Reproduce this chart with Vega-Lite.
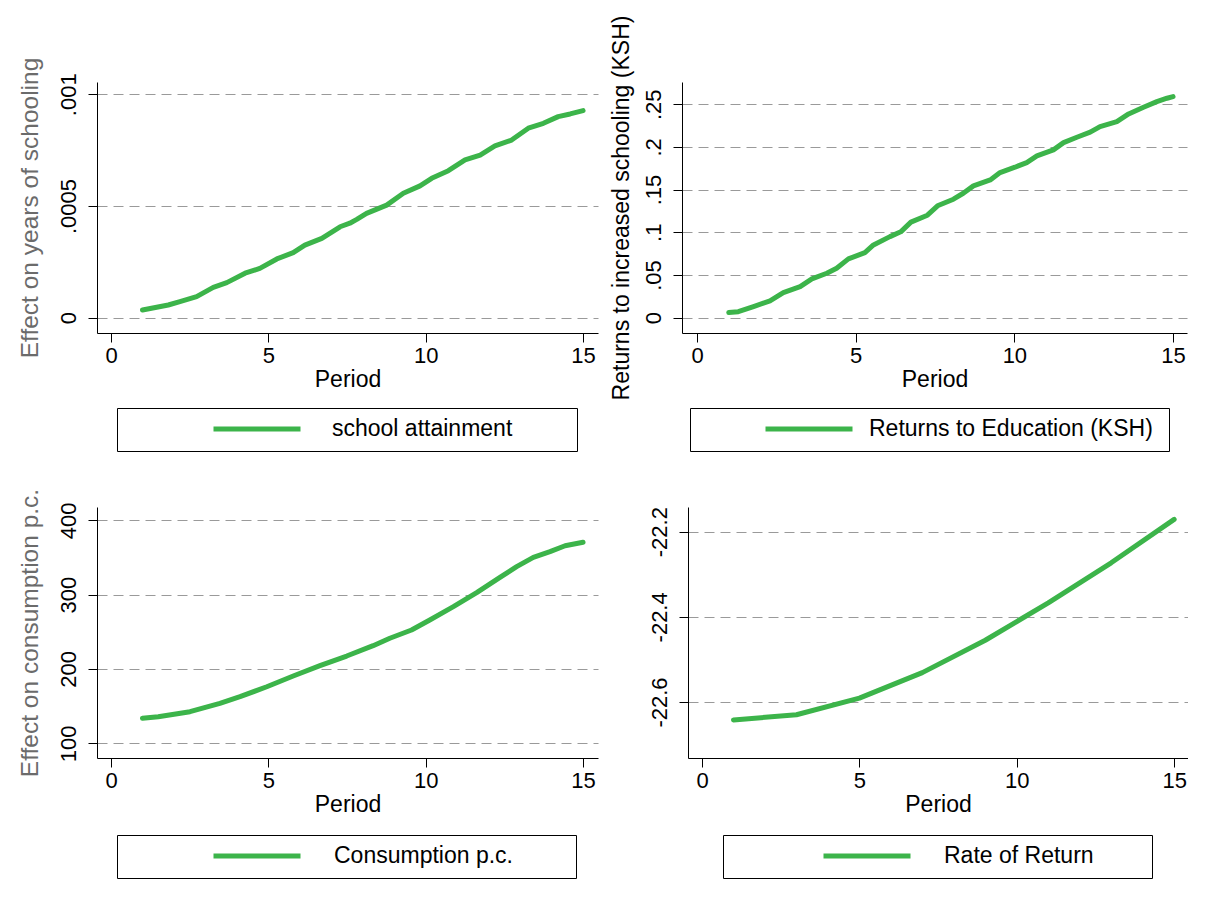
{
  "$schema": "https://vega.github.io/schema/vega-lite/v6.json",
  "background": "white",
  "padding": {"left": 16, "top": 15, "right": 0, "bottom": 0},
  "config": {
    "view": {"stroke": null},
    "font": "Liberation Sans",
    "axis": {
      "domainColor": "black", "domainWidth": 1, "tickColor": "black", "tickWidth": 1, "tickSize": 9,
      "labelColor": "black", "labelFontSize": 22, "labelFont": "Liberation Sans",
      "titleFont": "Liberation Sans", "titleFontWeight": "normal", "titleColor": "black", "titleFontSize": 23,
      "gridColor": "#9a9a9a", "gridDash": [10, 6], "gridWidth": 1, "labelOverlap": false, "labelFlush": false
    },
    "axisX": {"grid": false, "labelPadding": 3, "titlePadding": 2},
    "axisY": {"grid": true, "labelAngle": 270, "labelAlign": "center", "labelBaseline": "alphabetic", "labelPadding": 12.5,
      "titleAngle": 270, "titleAlign": "center", "titleBaseline": "alphabetic"},
    "legend": {
      "orient": "none", "direction": "horizontal", "strokeColor": "black", "padding": 9.5,
      "symbolType": "stroke", "symbolSize": 7569, "symbolStrokeWidth": 5, "clipHeight": 23, "labelLimit": 1000,
      "labelFontSize": 23, "labelColor": "black", "labelFont": "Liberation Sans",
      "titleOrient": "right", "titleFontSize": 1, "titleColor": "white"
    }
  },
  "datasets": {
    "school": [
      {"period": 1, "value": 0.0000345, "series": "school attainment"},
      {"period": 1.82, "value": 0.0000568, "series": "school attainment"},
      {"period": 2.19, "value": 0.0000716, "series": "school attainment"},
      {"period": 2.72, "value": 0.000094, "series": "school attainment"},
      {"period": 3.25, "value": 0.000136, "series": "school attainment"},
      {"period": 3.68, "value": 0.000157, "series": "school attainment"},
      {"period": 4.26, "value": 0.000199, "series": "school attainment"},
      {"period": 4.73, "value": 0.000221, "series": "school attainment"},
      {"period": 5.27, "value": 0.000263, "series": "school attainment"},
      {"period": 5.79, "value": 0.000291, "series": "school attainment"},
      {"period": 6.16, "value": 0.000325, "series": "school attainment"},
      {"period": 6.7, "value": 0.000355, "series": "school attainment"},
      {"period": 7.28, "value": 0.000407, "series": "school attainment"},
      {"period": 7.59, "value": 0.000423, "series": "school attainment"},
      {"period": 7.81, "value": 0.00044, "series": "school attainment"},
      {"period": 8.12, "value": 0.000467, "series": "school attainment"},
      {"period": 8.76, "value": 0.000504, "series": "school attainment"},
      {"period": 9.29, "value": 0.000557, "series": "school attainment"},
      {"period": 9.82, "value": 0.00059, "series": "school attainment"},
      {"period": 10.19, "value": 0.000624, "series": "school attainment"},
      {"period": 10.72, "value": 0.000658, "series": "school attainment"},
      {"period": 11.25, "value": 0.000706, "series": "school attainment"},
      {"period": 11.73, "value": 0.000728, "series": "school attainment"},
      {"period": 12.2, "value": 0.000769, "series": "school attainment"},
      {"period": 12.73, "value": 0.000795, "series": "school attainment"},
      {"period": 13.26, "value": 0.000848, "series": "school attainment"},
      {"period": 13.74, "value": 0.00087, "series": "school attainment"},
      {"period": 14.21, "value": 0.0009, "series": "school attainment"},
      {"period": 14.59, "value": 0.000912, "series": "school attainment"},
      {"period": 15, "value": 0.000927, "series": "school attainment"}
    ],
    "returns": [
      {"period": 1, "value": 0.0059, "series": "Returns to Education (KSH)"},
      {"period": 1.3, "value": 0.007, "series": "Returns to Education (KSH)"},
      {"period": 1.78, "value": 0.0129, "series": "Returns to Education (KSH)"},
      {"period": 2.3, "value": 0.0196, "series": "Returns to Education (KSH)"},
      {"period": 2.72, "value": 0.0293, "series": "Returns to Education (KSH)"},
      {"period": 3.25, "value": 0.0363, "series": "Returns to Education (KSH)"},
      {"period": 3.62, "value": 0.0453, "series": "Returns to Education (KSH)"},
      {"period": 4.09, "value": 0.052, "series": "Returns to Education (KSH)"},
      {"period": 4.4, "value": 0.0579, "series": "Returns to Education (KSH)"},
      {"period": 4.77, "value": 0.0688, "series": "Returns to Education (KSH)"},
      {"period": 5.29, "value": 0.0762, "series": "Returns to Education (KSH)"},
      {"period": 5.56, "value": 0.0852, "series": "Returns to Education (KSH)"},
      {"period": 6.08, "value": 0.0949, "series": "Returns to Education (KSH)"},
      {"period": 6.42, "value": 0.1005, "series": "Returns to Education (KSH)"},
      {"period": 6.74, "value": 0.1119, "series": "Returns to Education (KSH)"},
      {"period": 7.26, "value": 0.12, "series": "Returns to Education (KSH)"},
      {"period": 7.58, "value": 0.131, "series": "Returns to Education (KSH)"},
      {"period": 8.08, "value": 0.1387, "series": "Returns to Education (KSH)"},
      {"period": 8.39, "value": 0.1457, "series": "Returns to Education (KSH)"},
      {"period": 8.71, "value": 0.1543, "series": "Returns to Education (KSH)"},
      {"period": 9.24, "value": 0.1613, "series": "Returns to Education (KSH)"},
      {"period": 9.55, "value": 0.1699, "series": "Returns to Education (KSH)"},
      {"period": 10.02, "value": 0.1762, "series": "Returns to Education (KSH)"},
      {"period": 10.39, "value": 0.1816, "series": "Returns to Education (KSH)"},
      {"period": 10.71, "value": 0.1894, "series": "Returns to Education (KSH)"},
      {"period": 11.23, "value": 0.1965, "series": "Returns to Education (KSH)"},
      {"period": 11.55, "value": 0.205, "series": "Returns to Education (KSH)"},
      {"period": 11.97, "value": 0.2113, "series": "Returns to Education (KSH)"},
      {"period": 12.39, "value": 0.2172, "series": "Returns to Education (KSH)"},
      {"period": 12.7, "value": 0.2238, "series": "Returns to Education (KSH)"},
      {"period": 13.23, "value": 0.2296, "series": "Returns to Education (KSH)"},
      {"period": 13.6, "value": 0.2386, "series": "Returns to Education (KSH)"},
      {"period": 14.07, "value": 0.2465, "series": "Returns to Education (KSH)"},
      {"period": 14.49, "value": 0.253, "series": "Returns to Education (KSH)"},
      {"period": 14.81, "value": 0.257, "series": "Returns to Education (KSH)"},
      {"period": 15, "value": 0.2589, "series": "Returns to Education (KSH)"}
    ],
    "consumption": [
      {"period": 1, "value": 133.6, "series": "Consumption p.c."},
      {"period": 1.5, "value": 135.8, "series": "Consumption p.c."},
      {"period": 2.51, "value": 142.5, "series": "Consumption p.c."},
      {"period": 3.46, "value": 153.8, "series": "Consumption p.c."},
      {"period": 4.1, "value": 162.7, "series": "Consumption p.c."},
      {"period": 4.95, "value": 176.1, "series": "Consumption p.c."},
      {"period": 5.79, "value": 190.5, "series": "Consumption p.c."},
      {"period": 6.64, "value": 204.4, "series": "Consumption p.c."},
      {"period": 7.49, "value": 217.4, "series": "Consumption p.c."},
      {"period": 8.33, "value": 231.3, "series": "Consumption p.c."},
      {"period": 8.86, "value": 241.3, "series": "Consumption p.c."},
      {"period": 9.55, "value": 252.4, "series": "Consumption p.c."},
      {"period": 10.13, "value": 265.9, "series": "Consumption p.c."},
      {"period": 10.88, "value": 283.8, "series": "Consumption p.c."},
      {"period": 11.62, "value": 302.6, "series": "Consumption p.c."},
      {"period": 12.36, "value": 323.3, "series": "Consumption p.c."},
      {"period": 12.89, "value": 337.6, "series": "Consumption p.c."},
      {"period": 13.42, "value": 350.2, "series": "Consumption p.c."},
      {"period": 13.95, "value": 357.8, "series": "Consumption p.c."},
      {"period": 14.43, "value": 365.8, "series": "Consumption p.c."},
      {"period": 15, "value": 370.4, "series": "Consumption p.c."}
    ],
    "rate": [
      {"period": 1, "value": -22.642, "series": "Rate of Return"},
      {"period": 3, "value": -22.63, "series": "Rate of Return"},
      {"period": 5, "value": -22.591, "series": "Rate of Return"},
      {"period": 7, "value": -22.531, "series": "Rate of Return"},
      {"period": 9, "value": -22.455, "series": "Rate of Return"},
      {"period": 11, "value": -22.367, "series": "Rate of Return"},
      {"period": 13, "value": -22.273, "series": "Rate of Return"},
      {"period": 15, "value": -22.171, "series": "Rate of Return"}
    ]
  },
  "columns": 2,
  "bounds": "flush",
  "spacing": {"row": 174, "column": 84},
  "resolve": {"scale": {"color": "independent", "x": "independent", "y": "independent"}, "legend": {"color": "independent"}, "axis": {"x": "independent", "y": "independent"}},
  "concat": [
    {
      "width": 501, "height": 251,
      "data": {"name": "school"},
      "mark": {"type": "line", "strokeWidth": 5, "strokeCap": "round", "strokeJoin": "round"},
      "encoding": {
        "x": {"field": "period", "type": "quantitative", "scale": {"domain": [-0.445, 15.475], "nice": false, "zero": false},
          "axis": {"values": [0, 5, 10, 15], "title": "Period"}},
        "y": {"field": "value", "type": "quantitative", "scale": {"domain": [-0.0000685, 0.001055], "nice": false, "zero": false},
          "axis": {"values": [0, 0.0005, 0.001], "labelExpr": "replace(toString(datum.value), '0.', '.')", "title": "Effect on years of schooling",
            "titleFontSize": 24.5, "titleColor": "#6b6b6b", "titleX": -60, "titleY": 125.5}},
        "color": {"field": "series", "type": "nominal", "scale": {"range": ["#3cb44a"]},
          "legend": {"legendX": 20, "legendY": 326, "symbolOffset": 84.5, "labelOffset": 29, "title": "\u00a0", "titlePadding": 55}}
      }
    },
    {
      "width": 505, "height": 251,
      "data": {"name": "returns"},
      "mark": {"type": "line", "strokeWidth": 5, "strokeCap": "round", "strokeJoin": "round"},
      "encoding": {
        "x": {"field": "period", "type": "quantitative", "scale": {"domain": [-0.473, 15.44], "nice": false, "zero": false},
          "axis": {"values": [0, 5, 10, 15], "title": "Period"}},
        "y": {"field": "value", "type": "quantitative", "scale": {"domain": [-0.018, 0.276], "nice": false, "zero": false},
          "axis": {"values": [0, 0.05, 0.1, 0.15, 0.2, 0.25], "labelExpr": "replace(toString(datum.value), '0.', '.')", "title": "Returns to increased schooling (KSH)",
            "titleFontSize": 23, "titleColor": "black", "titleX": -54, "titleY": 125.5}},
        "color": {"field": "series", "type": "nominal", "scale": {"range": ["#3cb44a"]},
          "legend": {"legendX": 8, "legendY": 326, "symbolOffset": 63.5, "labelOffset": 14, "title": "\u00a0", "titlePadding": 6.5}}
      }
    },
    {
      "width": 501, "height": 251,
      "data": {"name": "consumption"},
      "mark": {"type": "line", "strokeWidth": 5, "strokeCap": "round", "strokeJoin": "round"},
      "encoding": {
        "x": {"field": "period", "type": "quantitative", "scale": {"domain": [-0.445, 15.475], "nice": false, "zero": false},
          "axis": {"values": [0, 5, 10, 15], "title": "Period"}},
        "y": {"field": "value", "type": "quantitative", "scale": {"domain": [80.2, 417.9], "nice": false, "zero": false},
          "axis": {"values": [100, 200, 300, 400], "title": "Effect on consumption p.c.",
            "titleFontSize": 24.5, "titleColor": "#6b6b6b", "titleX": -60, "titleY": 125.5}},
        "color": {"field": "series", "type": "nominal", "scale": {"range": ["#3cb44a"]},
          "legend": {"legendX": 20, "legendY": 328, "symbolOffset": 84.5, "labelOffset": 31, "title": "\u00a0", "titlePadding": 53.5}}
      }
    },
    {
      "width": 506, "height": 251,
      "data": {"name": "rate"},
      "mark": {"type": "line", "strokeWidth": 5, "strokeCap": "round", "strokeJoin": "round"},
      "encoding": {
        "x": {"field": "period", "type": "quantitative", "scale": {"domain": [-0.445, 15.44], "nice": false, "zero": false, "range": [6, 506]},
          "axis": {"values": [0, 5, 10, 15], "title": "Period"}},
        "y": {"field": "value", "type": "quantitative", "scale": {"domain": [-22.7315, -22.142], "nice": false, "zero": false},
          "axis": {"values": [-22.6, -22.4, -22.2], "labelExpr": "toString(datum.value)", "title": null, "offset": -6}},
        "color": {"field": "series", "type": "nominal", "scale": {"range": ["#3cb44a"]},
          "legend": {"legendX": 41, "legendY": 328, "symbolOffset": 88.5, "labelOffset": 31, "title": "\u00a0", "titlePadding": 49}}
      }
    }
  ]
}
